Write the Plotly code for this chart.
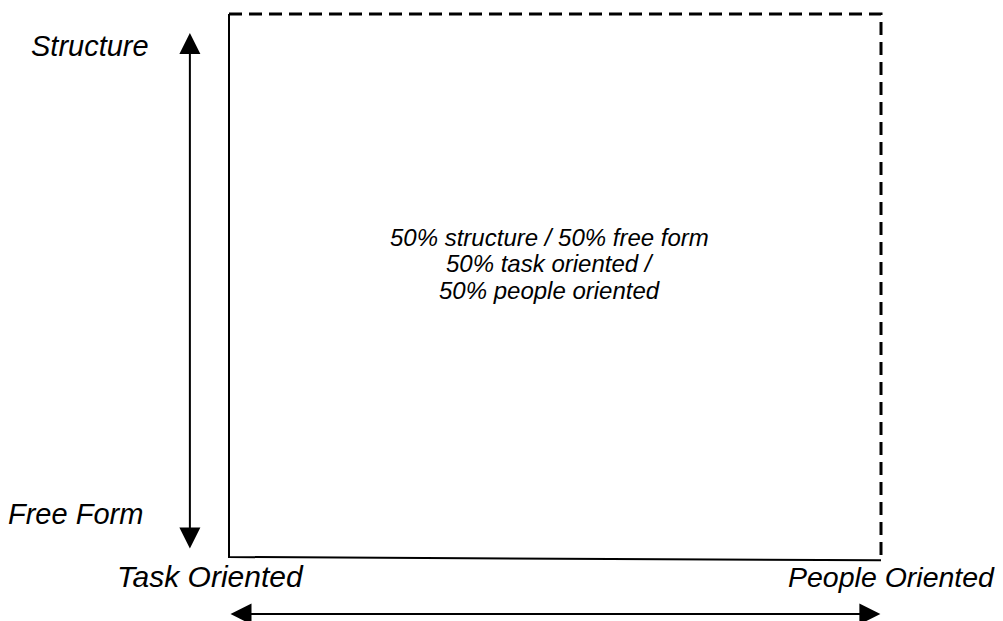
import plotly.graph_objects as go

# Box in normalised coordinates: x 0 = task oriented, 1 = people oriented;
# y 0 = free form, 1 = structure
solid_x = [0, 0, 1]
solid_y = [1, 0, -0.006]
dashed_x = [0, 1, 1]
dashed_y = [1, 1, -0.006]

# Axis arrows
v_arrow_x = -0.06
v_arrow_y = [0.965, 0.013]
h_arrow_y = -0.105
h_arrow_x = [0.0, 0.999]

# Labels
label_text = ["Structure", "Free Form", "Task Oriented", "People Oriented"]
label_x = [-0.2132, -0.2350, -0.0291, 1.1764]
label_y = [0.9411, 0.0792, -0.0368, -0.0368]
label_size = [29, 29, 30, 28.5]
label_anchor = ["center", "center", "center", "right"]

center_text = ["50% structure / 50% free form", "50% task oriented /", "50% people oriented"]
center_x = [0.492, 0.492, 0.492]
center_y = [0.589, 0.540, 0.4915]

FONT = "Liberation Sans, Arial, sans-serif"
W, H = 995, 613
OFF = 8  # page body margin
X0, XS = 229, 652   # pixel of x=0, pixels per unit
Y0, YS = 557, 543   # pixel of y=0, pixels per unit

fig = go.Figure()
fig.add_trace(go.Scatter(x=solid_x, y=solid_y, mode="lines",
                         line=dict(color="black", width=2), hoverinfo="skip"))
fig.add_trace(go.Scatter(x=dashed_x, y=dashed_y, mode="lines",
                         line=dict(color="black", width=3, dash="13px,7px"), hoverinfo="skip"))

# vertical double arrow
fig.add_annotation(x=v_arrow_x, y=v_arrow_y[0], ax=v_arrow_x, ay=v_arrow_y[1],
                   xref="x", yref="y", axref="x", ayref="y", text="",
                   showarrow=True, arrowhead=2, startarrowhead=2, arrowside="end+start",
                   arrowwidth=2, arrowsize=2.1, startarrowsize=2.1, arrowcolor="black")
# horizontal double arrow
fig.add_annotation(x=h_arrow_x[1], y=h_arrow_y, ax=h_arrow_x[0], ay=h_arrow_y,
                   xref="x", yref="y", axref="x", ayref="y", text="",
                   showarrow=True, arrowhead=2, startarrowhead=2, arrowside="end+start",
                   arrowwidth=2, arrowsize=2.1, startarrowsize=2.1, arrowcolor="black")

for t, x, y, s, a in zip(label_text, label_x, label_y, label_size, label_anchor):
    fig.add_annotation(x=x, y=y, xref="x", yref="y", text=t, showarrow=False,
                       xanchor=a, yanchor="middle", borderpad=0,
                       font=dict(family=FONT, size=s, color="black", style="italic"))

for t, x, y in zip(center_text, center_x, center_y):
    fig.add_annotation(x=x, y=y, xref="x", yref="y", text=t, showarrow=False,
                       xanchor="center", yanchor="middle", borderpad=0,
                       font=dict(family=FONT, size=24, color="black", style="italic"))

fig.update_layout(
    width=W, height=H,
    margin=dict(l=0, r=0, t=0, b=0),
    paper_bgcolor="white", plot_bgcolor="white",
    showlegend=False,
    xaxis=dict(range=[(OFF - X0) / XS, (OFF + W - X0) / XS], visible=False, fixedrange=True),
    yaxis=dict(range=[(Y0 - OFF - H) / YS, (Y0 - OFF) / YS], visible=False, fixedrange=True),
)

fig.write_html("out.html", config={"displayModeBar": False})
